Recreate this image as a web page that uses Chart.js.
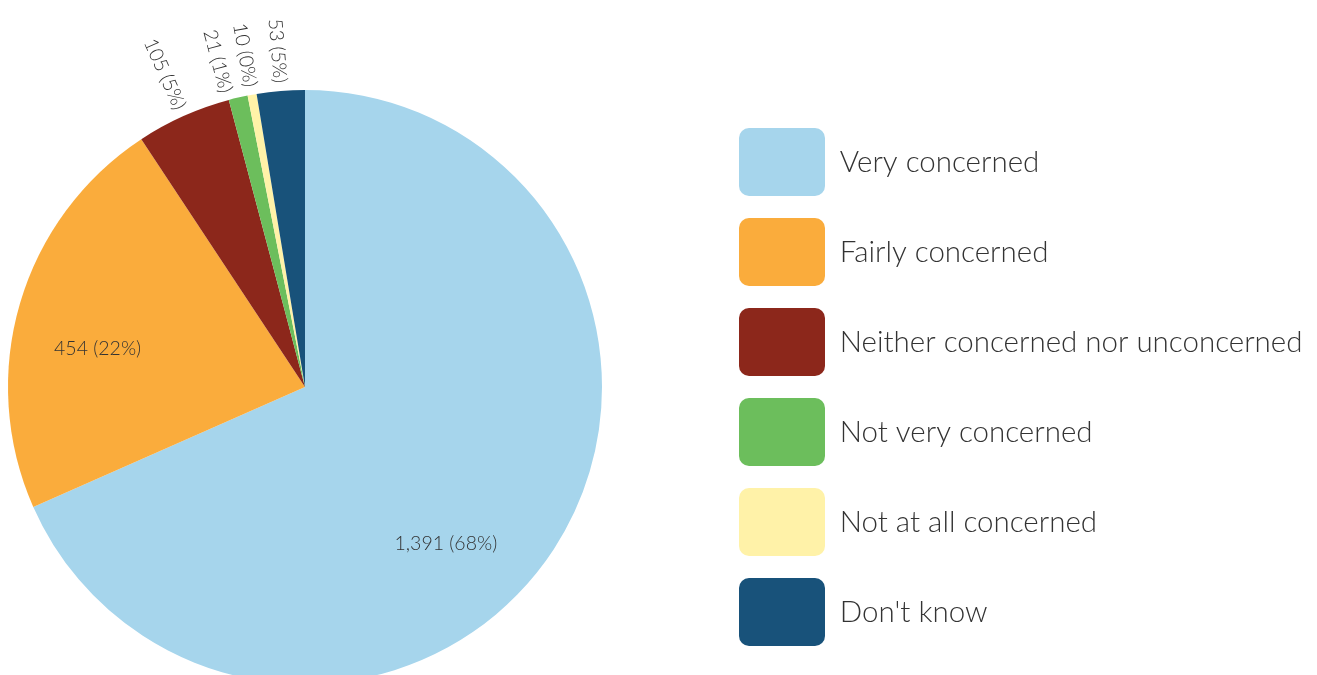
<!DOCTYPE html>
<html>
<head>
<meta charset="utf-8">
<script src="https://cdn.jsdelivr.net/npm/chart.js@4.4.0/dist/chart.umd.min.js"></script>
<style>
html, body { margin: 0; padding: 0; background: #fff; overflow: hidden; }
#wrap { position: relative; width: 1317px; height: 675px; overflow: hidden; }
#chart { position: absolute; left: -107px; top: 0; }
</style>
</head>
<body>
<div id="wrap"><canvas id="chart" width="1600" height="684"></canvas></div>
<script>
const categories = ['Very concerned', 'Fairly concerned', 'Neither concerned nor unconcerned', 'Not very concerned', 'Not at all concerned', "Don't know"];
const counts = [1391, 454, 105, 21, 10, 53];
const percents = [68, 22, 5, 1, 0, 5];
const colours = ['#a6d5ec', '#faac3c', '#8c271b', '#6cbe5c', '#fff2a8', '#18527a'];

// legend sits to the right of the pie, work out its width so the pie keeps its place
const legendFont = { family: 'Lato', size: 29.5, weight: '300' };
const probe = document.createElement('canvas').getContext('2d');
probe.font = '300 29.5px Lato';
const textW = Math.max(...categories.map(c => probe.measureText(c).width));
const legendW = 22 + 86 + legendFont.size / 2 + textW + 10;
const canvasW = 1600;
const pieSide = 824;

const sliceLabels = {
    id: 'sliceLabels',
    afterDatasetsDraw(chart, args, opts) {
        const ctx = chart.ctx;
        const arcs = chart.getDatasetMeta(0).data;
        ctx.save();
        ctx.fillStyle = opts.color;
        ctx.font = opts.font;
        arcs.forEach((arc, i) => {
            const p = arc.getProps(['x', 'y', 'startAngle', 'endAngle', 'outerRadius'], true);
            const text = counts[i].toLocaleString('en-US') + ' (' + percents[i] + '%)';
            const mid = (p.startAngle + p.endAngle) / 2 + (opts.nudge[i] || 0) * Math.PI / 180;
            if (p.endAngle - p.startAngle > 0.5) {
                const r = p.outerRadius * opts.inside;
                ctx.textAlign = 'center';
                ctx.textBaseline = 'middle';
                ctx.fillText(text, p.x + Math.cos(mid) * r, p.y + Math.sin(mid) * r);
            } else {
                // small slices: text runs radially, ending just off the rim
                const r = p.outerRadius + opts.gap;
                ctx.save();
                ctx.translate(p.x + Math.cos(mid) * r, p.y + Math.sin(mid) * r);
                ctx.rotate(mid + Math.PI);
                ctx.textAlign = 'right';
                ctx.textBaseline = 'middle';
                ctx.fillText(text, 0, 0);
                ctx.restore();
            }
        });
        ctx.restore();
    }
};

const ctx = document.getElementById('chart').getContext('2d');

const pieChart = new Chart(ctx, {
    type: 'pie',
    data: {
        labels: categories,
        datasets: [{
            data: counts,
            backgroundColor: colours,
            borderWidth: 0,
            hoverOffset: 0
        }]
    },
    options: {
        responsive: false,
        animation: false,
        events: [],
        layout: {
            padding: { left: 0, top: 90, bottom: 0, right: canvasW - pieSide - legendW }
        },
        plugins: {
            tooltip: { enabled: false },
            legend: {
                position: 'right',
                labels: {
                    boxWidth: 86,
                    boxHeight: 68,
                    padding: 22,
                    useBorderRadius: true,
                    borderRadius: 10,
                    color: '#333',
                    font: legendFont
                }
            },
            sliceLabels: {
                color: '#333',
                font: '300 19.5px Lato',
                inside: 0.71,
                gap: 8,
                nudge: { 0: 15, 1: -6, 3: -2 }
            }
        }
    },
    plugins: [sliceLabels]
});
</script>
</body>
</html>
